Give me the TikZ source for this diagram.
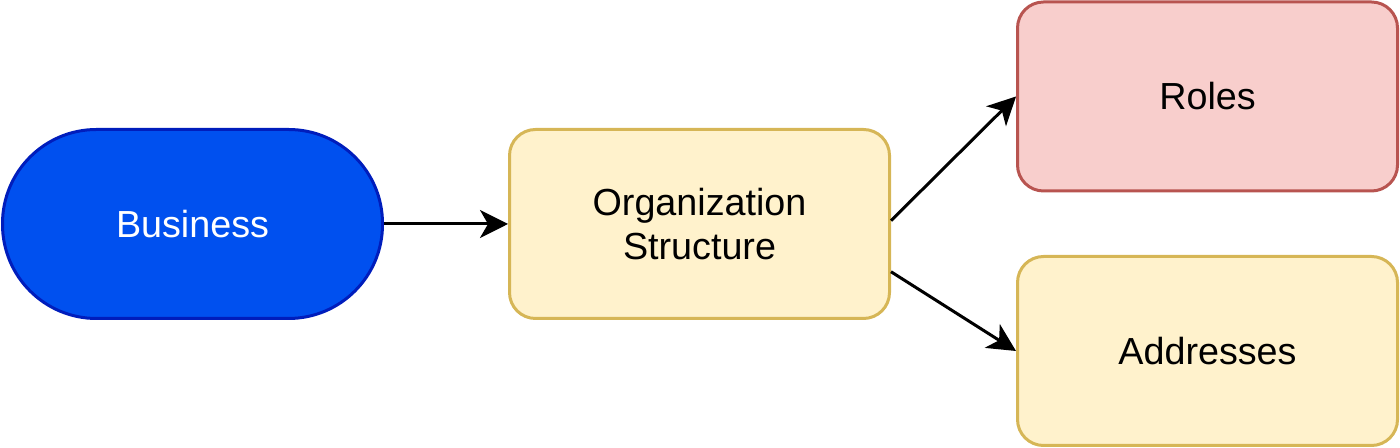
\documentclass[tikz,border=0pt]{standalone}
\usepackage{fontspec}
\setmainfont{Liberation Sans}
\usepackage{xcolor}
\usetikzlibrary{shapes.geometric, arrows.meta, positioning}
\definecolor{bizfill}{HTML}{0050EF}
\definecolor{bizline}{HTML}{001DBC}
\definecolor{orgfill}{HTML}{FFF2CC}
\definecolor{orgline}{HTML}{D6B656}
\definecolor{rolefill}{HTML}{F8CECC}
\definecolor{roleline}{HTML}{B85450}

\begin{document}
\begin{tikzpicture}[node distance=62pt, auto, >=Stealth]
\tikzset{
  start/.style = {rectangle, draw=bizline, fill=bizfill, text=white, line width=1.5pt, minimum width=190pt, minimum height=94.5pt, rounded corners=47pt, font=\fontsize{18.85pt}{22pt}\selectfont},
  block/.style = {rectangle, draw=orgline, fill=orgfill, line width=1.5pt, minimum width=190pt, minimum height=94.5pt, rounded corners=13pt, align=center, font=\fontsize{18.85pt}{22pt}\selectfont},
  redblock/.style = {block, draw=roleline, fill=rolefill},
  line/.style = {draw, line width=1.5pt, -{Stealth[length=14pt, width=14pt, inset=4pt]}}
}
\useasboundingbox (0,0) rectangle (700pt,224pt);
\node [start] (business) at (96.25pt,112pt) {Business};
\node [block, right=of business] (org_structure) {Organization\\Structure};
\node [redblock, right=62.5pt of org_structure, yshift=63.75pt] (roles) {Roles};
\node [block, right=62.5pt of org_structure, yshift=-63.5pt] (addresses) {Addresses};
\path [line] (business) -- (org_structure);
\path [line] (org_structure.1) -- (roles.west);
\path [line] (org_structure.-14) -- (addresses.west);
\end{tikzpicture}
\end{document}
